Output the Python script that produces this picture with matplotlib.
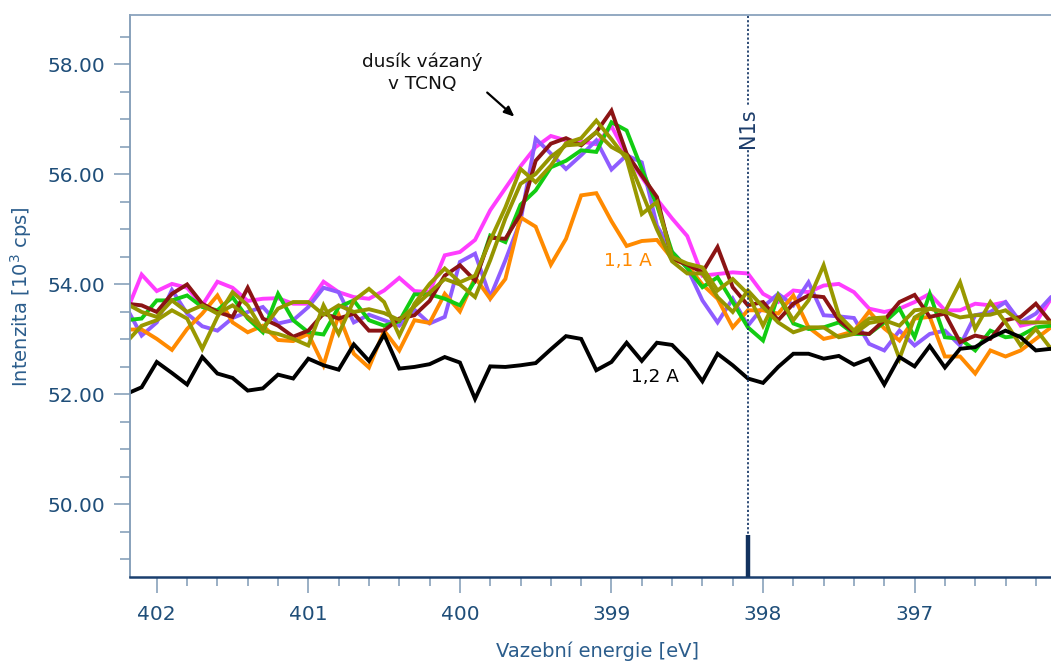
import numpy as np
import matplotlib
matplotlib.use("Agg")
import matplotlib.pyplot as plt
from matplotlib.ticker import MultipleLocator, FixedLocator, FuncFormatter

# Binding energy grid [eV], 0.1 eV step (descending)
energy = np.round(np.arange(402.2, 395.95, -0.1), 1)

# Intensity series [10^3 cps]
magenta = [53.50, 54.18, 53.88, 54.01, 53.94, 53.62, 54.05, 53.94, 53.70, 53.74,
           53.75, 53.65, 53.65, 54.05, 53.86, 53.77, 53.74, 53.89, 54.12, 53.88,
           53.86, 54.53, 54.59, 54.81, 55.35, 55.75, 56.15, 56.50, 56.70, 56.62,
           56.60, 56.55, 56.88, 56.35, 55.95, 55.55, 55.20, 54.88, 54.16, 54.19,
           54.22, 54.20, 53.83, 53.68, 53.89, 53.86, 53.98, 54.01, 53.86, 53.56,
           53.50, 53.56, 53.68, 53.83, 53.53, 53.53, 53.65, 53.62, 53.68, 53.25,
           53.31, 53.74, 53.80]
purple = [53.58, 53.07, 53.31, 53.90, 53.47, 53.24, 53.16, 53.39, 53.50, 53.59,
          53.29, 53.35, 53.59, 53.94, 53.86, 53.31, 53.45, 53.35, 53.25, 53.54,
          53.29, 53.41, 54.41, 54.56, 53.77, 54.44, 55.16, 56.65, 56.38, 56.10,
          56.35, 56.62, 56.09, 56.35, 56.22, 55.07, 54.59, 54.30, 53.71, 53.31,
          53.74, 53.25, 53.59, 53.83, 53.62, 54.04, 53.44, 53.42, 53.39, 52.92,
          52.80, 53.16, 52.89, 53.10, 53.16, 52.89, 53.44, 53.50, 53.68, 53.31,
          53.47, 53.77, 53.90]
orange = [53.18, 53.18, 53.01, 52.81, 53.19, 53.47, 53.80, 53.31, 53.13, 53.25,
          52.99, 52.97, 53.10, 52.53, 53.45, 52.74, 52.49, 53.16, 52.80, 53.35,
          53.30, 53.83, 53.51, 54.13, 53.74, 54.10, 55.22, 55.05, 54.36, 54.83,
          55.62, 55.66, 55.15, 54.70, 54.79, 54.81, 54.47, 54.35, 54.00, 53.74,
          53.22, 53.53, 53.53, 53.47, 53.80, 53.22, 53.01, 53.07, 53.15, 53.51,
          53.20, 52.98, 53.38, 53.41, 52.69, 52.69, 52.38, 52.80, 52.69, 52.80,
          53.01, 53.22, 53.30]
green = [53.35, 53.38, 53.71, 53.71, 53.80, 53.59, 53.53, 53.77, 53.38, 53.13,
         53.83, 53.35, 53.13, 53.09, 53.59, 53.71, 53.35, 53.25, 53.33, 53.82,
         53.82, 53.74, 53.62, 54.07, 54.89, 54.77, 55.45, 55.71, 56.13, 56.25,
         56.44, 56.41, 56.95, 56.80, 56.10, 55.44, 54.59, 54.30, 53.95, 54.13,
         53.68, 53.22, 52.98, 53.80, 53.29, 53.19, 53.22, 53.31, 53.10, 53.10,
         53.31, 53.56, 53.04, 53.83, 53.04, 53.01, 52.80, 53.16, 53.04, 53.07,
         53.22, 53.25, 53.25]
darkred = [53.65, 53.62, 53.50, 53.83, 54.00, 53.65, 53.50, 53.41, 53.94, 53.38,
           53.25, 53.05, 53.16, 53.47, 53.38, 53.47, 53.16, 53.16, 53.38, 53.44,
           53.70, 54.16, 54.35, 54.07, 54.85, 54.83, 55.28, 56.25, 56.56, 56.66,
           56.53, 56.77, 57.16, 56.38, 55.98, 55.59, 54.47, 54.36, 54.22, 54.68,
           53.95, 53.62, 53.68, 53.35, 53.65, 53.80, 53.77, 53.35, 53.13, 53.10,
           53.35, 53.68, 53.81, 53.41, 53.47, 52.95, 53.07, 53.01, 53.35, 53.41,
           53.65, 53.31, 53.20]
olive_a = [52.95, 53.25, 53.35, 53.53, 53.38, 52.83, 53.41, 53.86, 53.62, 53.16,
           53.10, 53.01, 52.89, 53.62, 53.10, 53.71, 53.92, 53.68, 53.07, 53.65,
           54.01, 54.29, 54.04, 54.16, 54.80, 55.40, 56.10, 55.86, 56.16, 56.57,
           56.66, 56.98, 56.64, 56.28, 55.28, 55.50, 54.50, 54.38, 54.31, 53.89,
           54.10, 53.83, 53.25, 53.80, 53.35, 53.71, 54.35, 53.44, 53.16, 53.38,
           53.40, 52.65, 53.40, 53.56, 53.50, 54.04, 53.19, 53.68, 53.31, 52.89,
           53.19, 52.83, 52.70]
olive_b = [53.65, 53.50, 53.41, 53.71, 53.50, 53.62, 53.47, 53.62, 53.41, 53.19,
           53.56, 53.68, 53.68, 53.45, 53.62, 53.50, 53.55, 53.48, 53.35, 53.60,
           53.85, 54.10, 54.00, 53.77, 54.44, 55.20, 55.83, 56.01, 56.32, 56.53,
           56.55, 56.77, 56.50, 56.35, 55.68, 55.00, 54.42, 54.20, 54.20, 53.77,
           53.50, 53.89, 53.59, 53.31, 53.13, 53.22, 53.22, 53.04, 53.10, 53.30,
           53.35, 53.25, 53.53, 53.56, 53.50, 53.40, 53.44, 53.45, 53.53, 53.31,
           53.31, 53.31, 53.30]
black = [52.01, 52.13, 52.59, 52.39, 52.18, 52.68, 52.38, 52.30, 52.07, 52.11,
         52.36, 52.29, 52.65, 52.53, 52.45, 52.91, 52.61, 53.09, 52.47, 52.50,
         52.55, 52.68, 52.58, 51.92, 52.51, 52.50, 52.53, 52.57, 52.82, 53.06,
         53.01, 52.44, 52.59, 52.94, 52.61, 52.94, 52.90, 52.62, 52.24, 52.74,
         52.53, 52.29, 52.21, 52.50, 52.74, 52.74, 52.65, 52.70, 52.54, 52.65,
         52.18, 52.68, 52.51, 52.88, 52.49, 52.83, 52.86, 53.03, 53.16, 53.04,
         52.80, 52.83, 52.85]

series = [
    (magenta, "#ff3dff"),
    (purple, "#8f5cff"),
    (orange, "#ff8a00"),
    (green, "#12cc12"),
    (darkred, "#8b1414"),
    (olive_a, "#999900"),
    (olive_b, "#949400"),
    (black, "#000000"),
]

n1s_energy = 398.1
x_ticks = [402, 401, 400, 399, 398, 397]
y_ticks = [50, 52, 54, 56, 58]

navy = "#1f4e79"
label_blue = "#2b5d8c"
light_axis = "#7f9ab5"

plt.rcParams["font.family"] = ["DejaVu Sans"]

fig = plt.figure(figsize=(10.51, 6.63), dpi=100)
ax = fig.add_axes([129.5 / 1051, 86 / 663, 1 - 129.5 / 1051, 562 / 663])

for values, color in series:
    ax.plot(energy, values, color=color, lw=2.8, solid_joinstyle="miter",
            solid_capstyle="butt")

ax.set_xlim(402.18, 396.1)
ax.set_ylim(48.68, 58.9)

# N1s reference line
ax.axvline(n1s_energy, ymax=1.0, color="#1d3d6b", lw=1.3, ls=(0, (1.2, 1.2)))
ax.vlines(n1s_energy, 48.68, 49.45, color="#12325e", lw=3.2, zorder=5)
ax.text(n1s_energy, 56.85, "N1s", rotation=90, ha="center", va="center",
        fontsize=15, color="#1d3d6b",
        bbox=dict(facecolor="white", edgecolor="none", pad=1.5))

# Annotations
ax.text(400.25, 57.85, "dusík vázaný\nv TCNQ", ha="center", va="center",
        fontsize=13.3, linespacing=1.35, color="#111111")
ax.annotate("", xy=(399.64, 57.05), xytext=(399.82, 57.49),
            arrowprops=dict(arrowstyle="-|>,head_length=0.6,head_width=0.25",
                            color="black", lw=1.6, shrinkA=0, shrinkB=0))
ax.text(398.89, 54.42, "1,1 A", ha="center", va="center", fontsize=13.3,
        color="#ff8a00")
ax.text(398.71, 52.31, "1,2 A", ha="center", va="center", fontsize=13.3,
        color="black")

# Axes styling
ax.xaxis.set_major_locator(FixedLocator(x_ticks))
ax.xaxis.set_minor_locator(MultipleLocator(0.2))
ax.xaxis.set_major_formatter(FuncFormatter(lambda v, p: f"{v:.0f}"))
ax.yaxis.set_major_locator(FixedLocator(y_ticks))
ax.yaxis.set_minor_locator(MultipleLocator(0.5))
ax.yaxis.set_major_formatter(FuncFormatter(lambda v, p: f"{v:.2f}"))

ax.tick_params(axis="both", which="major", direction="out", length=11.5,
               width=1.1, color=light_axis, labelcolor=navy, labelsize=14.5)
ax.tick_params(axis="both", which="minor", direction="out", length=7,
               width=1.1, color=light_axis)
ax.tick_params(axis="y", which="major", pad=6)
ax.tick_params(axis="x", which="major", pad=9)
ax.tick_params(axis="x", which="minor", length=6.5)

ax.spines["right"].set_visible(False)
ax.spines["left"].set_color(light_axis)
ax.spines["top"].set_color("#8aa3bd")
ax.spines["left"].set_linewidth(1.3)
ax.spines["top"].set_linewidth(1.3)
ax.spines["bottom"].set_color("#1a3f6e")
ax.spines["bottom"].set_linewidth(1.8)

fig.text(597 / 1051, 1 - 651 / 663, "Vazební energie [eV]", ha="center",
         va="center", fontsize=14, color=label_blue)
fig.text(21 / 1051, 1 - 297 / 663, "Intenzita [10$^3$ cps]", ha="center",
         va="center", rotation=90, fontsize=14, color=label_blue)

fig.savefig("out.png", dpi=100)
